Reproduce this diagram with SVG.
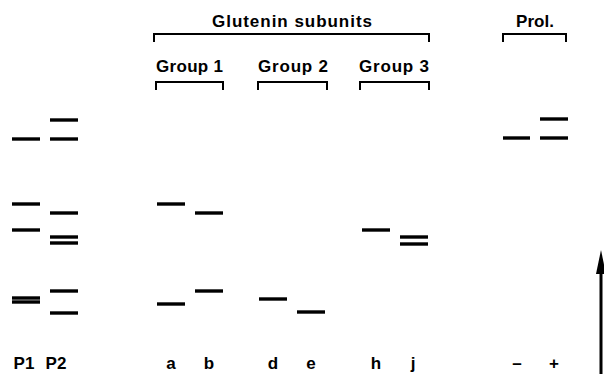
<svg xmlns="http://www.w3.org/2000/svg" width="604" height="374" viewBox="0 0 604 374">
  <style>
    .band { stroke: #000; stroke-width: 3.4; stroke-linecap: butt; }
    .brk { fill: none; stroke: #000; stroke-width: 2; stroke-linejoin: miter; }
    .lbl { font-family: "Liberation Sans", Arial, sans-serif; font-weight: bold; font-size: 17px; fill: #000; }
    .hdr { font-family: "Liberation Sans", Arial, sans-serif; font-weight: bold; font-size: 17px; fill: #000; }
  </style>
  <rect width="604" height="374" fill="#fff"/>

  <!-- headers and brackets -->
  <g id="header-glutenin">
    <text class="hdr" x="212" y="27" textLength="160" lengthAdjust="spacing">Glutenin subunits</text>
    <path class="brk" d="M154,42 V34 H429 V42"/>
  </g>
  <g id="header-group1">
    <text class="hdr" x="156" y="72" textLength="67" lengthAdjust="spacing">Group 1</text>
    <path class="brk" d="M156,90 V82 H223 V90"/>
  </g>
  <g id="header-group2">
    <text class="hdr" x="258" y="72" textLength="70" lengthAdjust="spacing">Group 2</text>
    <path class="brk" d="M258,90 V82 H327 V90"/>
  </g>
  <g id="header-group3">
    <text class="hdr" x="359" y="72" textLength="70" lengthAdjust="spacing">Group 3</text>
    <path class="brk" d="M360,90 V82 H429 V90"/>
  </g>
  <g id="header-prol">
    <text class="hdr" x="535" y="27" text-anchor="middle">Prol.</text>
    <path class="brk" d="M503,42 V34 H566 V42"/>
  </g>

  <!-- parent lanes -->
  <g id="lane-P1">
    <line class="band" x1="12" y1="139" x2="40" y2="139"/>
    <line class="band" x1="12" y1="204" x2="40" y2="204"/>
    <line class="band" x1="12" y1="230" x2="40" y2="230"/>
    <line class="band" x1="12" y1="298" x2="40" y2="298"/>
    <line class="band" x1="12" y1="302" x2="40" y2="302"/>
    <text class="lbl" x="24" y="369" text-anchor="middle">P1</text>
  </g>
  <g id="lane-P2">
    <line class="band" x1="50" y1="120" x2="78" y2="120"/>
    <line class="band" x1="50" y1="139" x2="78" y2="139"/>
    <line class="band" x1="50" y1="213" x2="78" y2="213"/>
    <line class="band" x1="50" y1="237" x2="78" y2="237"/>
    <line class="band" x1="50" y1="243" x2="78" y2="243"/>
    <line class="band" x1="50" y1="291" x2="78" y2="291"/>
    <line class="band" x1="50" y1="313" x2="78" y2="313"/>
    <text class="lbl" x="56" y="369" text-anchor="middle">P2</text>
  </g>

  <!-- glutenin subunit lanes -->
  <g id="lane-a">
    <line class="band" x1="157" y1="204" x2="185" y2="204"/>
    <line class="band" x1="157" y1="304" x2="185" y2="304"/>
    <text class="lbl" x="171" y="369" text-anchor="middle">a</text>
  </g>
  <g id="lane-b">
    <line class="band" x1="195" y1="213" x2="223" y2="213"/>
    <line class="band" x1="195" y1="291" x2="223" y2="291"/>
    <text class="lbl" x="209" y="369" text-anchor="middle">b</text>
  </g>
  <g id="lane-d">
    <line class="band" x1="259" y1="299" x2="287" y2="299"/>
    <text class="lbl" x="273" y="369" text-anchor="middle">d</text>
  </g>
  <g id="lane-e">
    <line class="band" x1="297" y1="312" x2="325" y2="312"/>
    <text class="lbl" x="311" y="369" text-anchor="middle">e</text>
  </g>
  <g id="lane-h">
    <line class="band" x1="362" y1="230" x2="390" y2="230"/>
    <text class="lbl" x="376" y="369" text-anchor="middle">h</text>
  </g>
  <g id="lane-j">
    <line class="band" x1="400" y1="237" x2="428" y2="237"/>
    <line class="band" x1="400" y1="244" x2="428" y2="244"/>
    <text class="lbl" x="413" y="369" text-anchor="middle">j</text>
  </g>

  <!-- prolamin lanes -->
  <g id="lane-minus">
    <line class="band" x1="503" y1="138" x2="530" y2="138"/>
    <text class="lbl" x="517" y="369" text-anchor="middle">–</text>
  </g>
  <g id="lane-plus">
    <line class="band" x1="540" y1="119" x2="568" y2="119"/>
    <line class="band" x1="540" y1="138" x2="568" y2="138"/>
    <text class="lbl" x="554" y="369" text-anchor="middle">+</text>
  </g>

  <!-- migration direction -->
  <g id="connectors">
    <line x1="601" y1="268" x2="601" y2="374" stroke="#000" stroke-width="3"/>
    <polygon points="596,274 601,250 606,274" fill="#000"/>
  </g>
</svg>
